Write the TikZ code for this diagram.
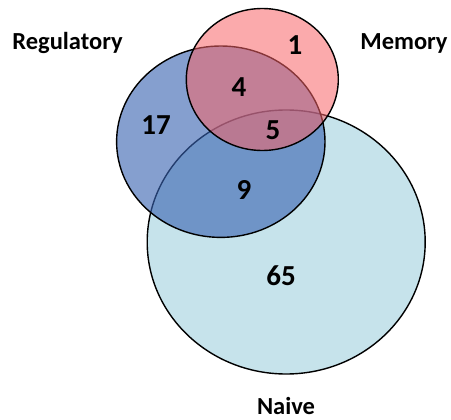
\documentclass[tikz,border=0pt]{standalone}
\usepackage{fontspec}
\setmainfont{Carlito}
\definecolor{naivefill}{RGB}{198,227,235}
\definecolor{regfill}{RGB}{58,100,178}
\definecolor{memfill}{RGB}{247,100,104}
\begin{document}
\begin{tikzpicture}[x=1pt,y=-1pt,
  setline/.style={draw=black,line width=1.4pt},
  setlabel/.style={font=\fontsize{24.5}{28}\selectfont\bfseries,inner sep=0pt},
  count/.style={font=\fontsize{29}{32}\selectfont\bfseries,inner sep=0pt}]
\useasboundingbox (0,0) rectangle (451,420);
% the three sets, back to front
\draw[setline,fill=naivefill] (286.2,242) ellipse [x radius=139,y radius=132];
\draw[setline,fill=regfill,fill opacity=0.62] (220.8,141.7) ellipse [x radius=104.2,y radius=95.7];
\draw[setline,fill=memfill,fill opacity=0.55] (262.3,79.5) ellipse [x radius=76,y radius=71];
% set names
\node[setlabel] (lreg) at (67.5,43) {Regulatory};
\node[setlabel] (lmem) at (404,43) {Memory};
\node[setlabel] (lnai) at (286,406) {Naive};
% region counts
\node[count] (cm) at (295,45) {1};
\node[count] (crm) at (239,87) {4};
\node[count] (cr) at (156,125) {17};
\node[count] (crmn) at (273,130) {5};
\node[count] (crn) at (244,190) {9};
\node[count] (cn) at (281,276) {65};
\end{tikzpicture}
\end{document}
